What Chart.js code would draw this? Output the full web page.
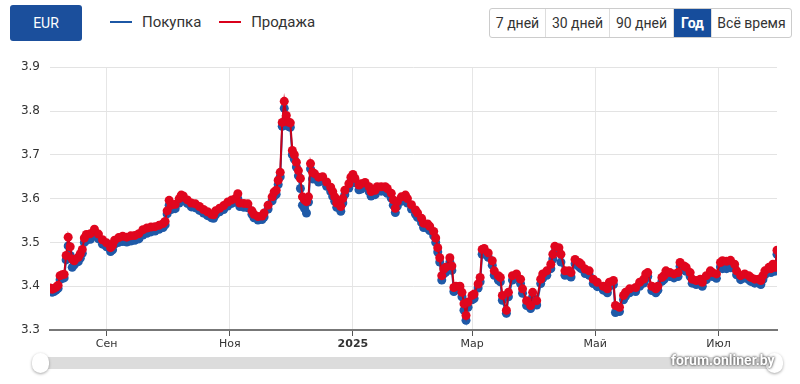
<!DOCTYPE html>
<html>
<head>
<meta charset="utf-8">
<script src="https://cdn.jsdelivr.net/npm/chart.js@4"></script>
<style>
  body { margin: 0; width: 800px; height: 384px; background: #fff; font-family: Roboto, "Open Sans", sans-serif; position: relative; overflow: hidden; }
  .cur { position: absolute; left: 10px; top: 5px; width: 72px; height: 36px; background: #1b4f9c; color: #fff; border-radius: 3px; font-size: 14px; line-height: 36px; text-align: center; }
  .legend { position: absolute; top: 12px; left: 110px; font-size: 15px; color: #333; white-space: nowrap; }
  .legend span { display: inline-block; vertical-align: middle; }
  .legend .mark { width: 22px; height: 2px; margin-right: 10px; }
  .legend .txt { margin-right: 14px; }
  .range { position: absolute; top: 8px; left: 489px; display: flex; border: 1px solid #ccc; border-radius: 3px; overflow: hidden; white-space: nowrap; }
  .range div { font-size: 14px; color: #333; height: 28px; line-height: 28px; border-left: 1px solid #ddd; text-align: center; }
  .range div:first-child { border-left: none; }
  .range .on { background: #164d9c; color: #fff; font-weight: bold; }
  #wrap { position: absolute; left: 0; top: 50px; }
  .bar { position: absolute; left: 42px; top: 357px; width: 736px; height: 12px; background: #dcdcdc; border-radius: 6px; }
  .knob { position: absolute; top: 353px; width: 17px; height: 20px; background: #fff; border-radius: 10px; box-shadow: 0 1px 3px rgba(0,0,0,.35); }
  .mark-w { position: absolute; left: 671px; top: 352px; font: bold 14px Roboto, sans-serif; color: #fff; text-shadow: 0 0 3px #555, 0 0 2px #555; }
</style>
</head>
<body>
<div class="cur">EUR</div>
<div class="legend">
  <span class="mark" style="background:#1c57a5"></span><span class="txt">Покупка</span>
  <span class="mark" style="background:#d9001b"></span><span class="txt">Продажа</span>
</div>
<div class="range">
  <div style="width:55px">7 дней</div><div style="width:63px">30 дней</div><div style="width:63px">90 дней</div><div class="on" style="width:37px">Год</div><div style="width:79px">Всё время</div>
</div>
<div id="wrap"><canvas id="chart" width="800" height="310"></canvas></div>
<div class="bar"></div>
<div class="knob" style="left:32px"></div>
<div class="knob" style="left:766px"></div>
<div class="mark-w">forum.onliner.by</div>
<script>
// day offsets from 4 Aug 2024
const days = [0,1,2,3,4,5,6,7,8,9,10,11,12,14,15,16,17,18,20,22,24,26,28,30,31,32,34,36,38,40,42,44,46,48,50,52,54,56,57,58,59,60,62,64,65,66,68,70,72,74,76,78,80,81,82,84,86,88,90,92,93,94,96,98,100,101,103,105,106,108,110,111,112,113,114,115,116,117,118,119,120,121,122,123,124,125,126,127,128,129,130,131,133,135,137,139,140,141,142,144,145,146,148,149,150,151,153,154,156,158,159,161,162,164,166,167,169,170,171,172,174,176,177,179,181,182,184,185,187,188,190,191,192,193,194,195,196,198,199,200,201,203,204,205,206,207,209,210,212,213,214,215,217,219,220,222,223,224,226,227,229,231,233,234,236,238,239,241,243,244,246,248,249,250,252,253,255,257,258,260,262,263,265,267,269,271,274,276,277,279,280,282,284,285,287,290,292,294,295,296,298,300,301,303,304,305,307,309,311,312,314,315,317,318,320,322,323,325,327,328,330,332,333,335,337,339,340,342,344,346,347,349,351,352,353,354,356,357,358,359,360];

const sell = [3.396,3.393,3.395,3.398,3.402,3.424,3.426,3.427,3.470,3.512,3.490,3.462,3.458,3.466,3.474,3.484,3.510,3.518,3.520,3.530,3.519,3.506,3.499,3.488,3.494,3.505,3.511,3.514,3.512,3.515,3.516,3.520,3.529,3.533,3.535,3.536,3.539,3.543,3.548,3.572,3.596,3.585,3.587,3.600,3.608,3.606,3.597,3.590,3.588,3.582,3.575,3.570,3.564,3.563,3.572,3.578,3.584,3.592,3.597,3.601,3.611,3.590,3.589,3.588,3.572,3.564,3.559,3.560,3.567,3.585,3.604,3.615,3.619,3.642,3.660,3.774,3.822,3.790,3.775,3.773,3.710,3.700,3.683,3.664,3.646,3.604,3.597,3.593,3.604,3.680,3.660,3.657,3.649,3.650,3.638,3.626,3.616,3.604,3.590,3.582,3.600,3.619,3.634,3.649,3.655,3.646,3.631,3.634,3.637,3.627,3.616,3.619,3.627,3.627,3.627,3.623,3.612,3.597,3.578,3.593,3.604,3.608,3.600,3.586,3.574,3.567,3.555,3.544,3.542,3.537,3.525,3.510,3.488,3.465,3.424,3.439,3.443,3.465,3.446,3.397,3.400,3.400,3.386,3.360,3.333,3.364,3.379,3.382,3.405,3.420,3.484,3.486,3.476,3.458,3.435,3.424,3.420,3.379,3.345,3.386,3.424,3.428,3.416,3.394,3.367,3.356,3.386,3.367,3.416,3.428,3.435,3.450,3.473,3.491,3.488,3.473,3.435,3.435,3.431,3.461,3.454,3.450,3.439,3.435,3.416,3.409,3.400,3.394,3.409,3.413,3.356,3.352,3.379,3.386,3.394,3.397,3.409,3.416,3.428,3.431,3.400,3.394,3.400,3.420,3.424,3.435,3.431,3.428,3.431,3.454,3.446,3.443,3.431,3.416,3.413,3.416,3.409,3.424,3.435,3.431,3.428,3.454,3.458,3.457,3.459,3.450,3.435,3.424,3.428,3.424,3.420,3.416,3.416,3.413,3.424,3.435,3.443,3.440,3.450,3.443,3.482];

const buy = [3.390,3.386,3.388,3.391,3.395,3.415,3.418,3.419,3.460,3.492,3.470,3.443,3.449,3.456,3.464,3.475,3.500,3.505,3.507,3.518,3.508,3.496,3.490,3.479,3.483,3.496,3.500,3.502,3.501,3.503,3.505,3.508,3.517,3.521,3.524,3.526,3.530,3.534,3.540,3.565,3.585,3.575,3.577,3.590,3.598,3.597,3.589,3.581,3.579,3.573,3.567,3.561,3.556,3.555,3.563,3.570,3.575,3.583,3.589,3.592,3.600,3.582,3.580,3.579,3.564,3.556,3.551,3.552,3.558,3.576,3.595,3.606,3.610,3.632,3.650,3.765,3.806,3.779,3.765,3.763,3.700,3.690,3.672,3.652,3.623,3.585,3.578,3.567,3.592,3.668,3.645,3.645,3.638,3.640,3.628,3.616,3.605,3.594,3.580,3.571,3.590,3.609,3.624,3.639,3.645,3.636,3.620,3.622,3.626,3.616,3.606,3.609,3.617,3.617,3.616,3.612,3.601,3.585,3.568,3.583,3.594,3.598,3.590,3.576,3.564,3.557,3.545,3.534,3.532,3.527,3.515,3.500,3.478,3.455,3.414,3.428,3.432,3.455,3.436,3.388,3.391,3.391,3.376,3.345,3.322,3.352,3.369,3.372,3.396,3.410,3.473,3.477,3.466,3.448,3.425,3.414,3.410,3.368,3.338,3.376,3.414,3.419,3.406,3.384,3.356,3.349,3.376,3.357,3.406,3.418,3.425,3.440,3.462,3.478,3.478,3.455,3.425,3.425,3.421,3.451,3.444,3.440,3.429,3.425,3.406,3.399,3.391,3.385,3.400,3.404,3.340,3.342,3.369,3.377,3.385,3.388,3.400,3.407,3.419,3.422,3.390,3.385,3.391,3.411,3.415,3.426,3.422,3.419,3.422,3.445,3.437,3.434,3.422,3.407,3.404,3.407,3.400,3.415,3.426,3.422,3.418,3.444,3.440,3.440,3.442,3.441,3.426,3.415,3.419,3.415,3.411,3.407,3.407,3.404,3.415,3.426,3.434,3.431,3.441,3.434,3.473];

const tickDays = [28, 89, 150, 209, 270, 331];
const tickLabels = ['Сен', 'Ноя', '2025', 'Мар', 'Май', 'Июл'];
const yTicks = [3.3, 3.4, 3.5, 3.6, 3.7, 3.8, 3.9];

const toPoints = (vals) => vals.map((v, i) => ({ x: days[i], y: v }));

new Chart(document.getElementById('chart'), {
  type: 'line',
  data: {
    datasets: [
      {
        label: 'Продажа',
        data: toPoints(sell),
        borderColor: '#c8001a',
        backgroundColor: '#e0061e',
        borderWidth: 2,
        pointRadius: 4.5,
        pointBorderWidth: 0,
        tension: 0
      },
      {
        label: 'Покупка',
        data: toPoints(buy),
        borderColor: '#1c57a5',
        backgroundColor: '#1f5aa8',
        borderWidth: 2,
        pointRadius: 4.5,
        pointBorderWidth: 0,
        tension: 0
      }
    ]
  },
  options: {
    responsive: false,
    animation: false,
    devicePixelRatio: 1,
    layout: { padding: { top: 14, right: 23, left: 0, bottom: 0 } },
    plugins: { legend: { display: false }, tooltip: { enabled: false } },
    scales: {
      x: {
        type: 'linear',
        min: 0,
        max: 360,
        afterBuildTicks: (scale) => { scale.ticks = tickDays.map(v => ({ value: v })); },
        afterFit: (scale) => { scale.height = 30; },
        ticks: {
          autoSkip: false,
          maxRotation: 0,
          color: '#333',
          padding: 2,
          font: (ctx) => ({
            family: '"DejaVu Sans", Verdana, sans-serif',
            size: 11,
            weight: ctx.tick && ctx.tick.value === 150 ? 'bold' : 'normal'
          }),
          callback: (v) => tickLabels[tickDays.indexOf(v)]
        },
        grid: { color: '#e6e6e6', tickColor: '#555', tickLength: 6 },
        border: { display: true, color: '#777', width: 2 }
      },
      y: {
        min: 3.3,
        max: 3.9,
        afterBuildTicks: (scale) => { scale.ticks = yTicks.map(v => ({ value: v })); },
        afterFit: (scale) => { scale.width = 50; },
        ticks: {
          color: '#333',
          padding: 10,
          font: { family: '"DejaVu Sans", Verdana, sans-serif', size: 12 },
          callback: (v) => v.toFixed(1)
        },
        grid: { color: '#e3e3e3', drawTicks: false, lineWidth: 1 },
        border: { display: false }
      }
    }
  }
});
</script>
</body>
</html>
